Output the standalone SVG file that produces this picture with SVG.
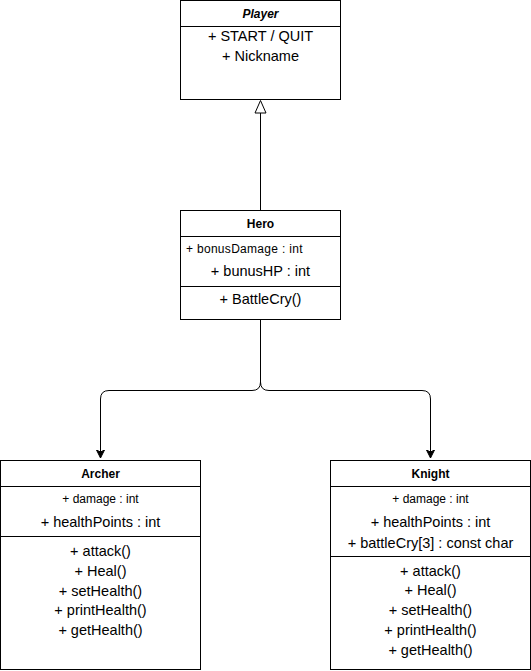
<svg xmlns="http://www.w3.org/2000/svg" width="531" height="671" viewBox="0 0 531 671">
<defs>
<style>
.box{fill:#ffffff;stroke:#000000;stroke-width:1}
.div{stroke:#000000;stroke-width:1;fill:none}
.t{font-family:"Liberation Sans",Arial,sans-serif;font-size:12px;font-weight:bold;text-anchor:middle;fill:#000}
.a{font-family:"Liberation Sans",Arial,sans-serif;font-size:14.5px;text-anchor:middle;fill:#000}
.s{font-family:"Liberation Sans",Arial,sans-serif;font-size:12px;fill:#000}
.e{fill:none;stroke:#000;stroke-width:1}
</style>
<marker id="arr" markerWidth="10" markerHeight="10" refX="8" refY="5" orient="auto" markerUnits="userSpaceOnUse">
<path d="M0,1 L8,5 L0,9 L2,5 Z" fill="#000" stroke="#000" stroke-width="1"/>
</marker>
</defs>
<g id="connectors">
<path class="e" d="M260.5,210 L260.5,113"/>
<path d="M260.5,100.5 L266,113 L255,113 Z" fill="#fff" stroke="#000" stroke-width="1"/>
<path class="e" d="M260.5,320 L260.5,382 Q260.5,390.5 252,390.5 L109,390.5 Q100.5,390.5 100.5,399 L100.5,458" marker-end="url(#arr)"/>
<path class="e" d="M260.5,320 L260.5,382 Q260.5,390.5 269,390.5 L422,390.5 Q430.5,390.5 430.5,399 L430.5,458" marker-end="url(#arr)"/>
</g>
<g id="player">
<rect class="box" x="180.5" y="0.5" width="160" height="99"/>
<line class="div" x1="180.5" y1="26.5" x2="340.5" y2="26.5"/>
<text class="t" x="260.5" y="18" font-style="italic">Player</text>
<text class="a" x="260.5" y="41">+ START / QUIT</text>
<text class="a" x="260.5" y="61">+ Nickname</text>
</g>
<g id="hero">
<rect class="box" x="180.5" y="210.5" width="160" height="109"/>
<line class="div" x1="180.5" y1="236.5" x2="340.5" y2="236.5"/>
<line class="div" x1="180.5" y1="286.5" x2="340.5" y2="286.5"/>
<text class="t" x="260.5" y="228">Hero</text>
<text class="s" x="186" y="253" font-size="11.5" letter-spacing="0.3">+ bonusDamage : int</text>
<text class="a" x="260.5" y="276">+ bunusHP : int</text>
<text class="a" x="260.5" y="304">+ BattleCry()</text>
</g>
<g id="archer">
<rect class="box" x="0.5" y="460.5" width="200" height="209"/>
<line class="div" x1="0.5" y1="486.5" x2="200.5" y2="486.5"/>
<line class="div" x1="0.5" y1="536.5" x2="200.5" y2="536.5"/>
<text class="t" x="100.5" y="478">Archer</text>
<text class="s" x="100.5" y="503" text-anchor="middle">+ damage : int</text>
<text class="a" x="100.5" y="527">+ healthPoints : int</text>
<text class="a" x="100.5" y="556">+ attack()</text>
<text class="a" x="100.5" y="576">+ Heal()</text>
<text class="a" x="100.5" y="596">+ setHealth()</text>
<text class="a" x="100.5" y="615">+ printHealth()</text>
<text class="a" x="100.5" y="635">+ getHealth()</text>
</g>
<g id="knight">
<rect class="box" x="330.5" y="460.5" width="200" height="209"/>
<line class="div" x1="330.5" y1="486.5" x2="530.5" y2="486.5"/>
<line class="div" x1="330.5" y1="556.5" x2="530.5" y2="556.5"/>
<text class="t" x="430.5" y="478">Knight</text>
<text class="s" x="430.5" y="503" text-anchor="middle">+ damage : int</text>
<text class="a" x="430.5" y="527">+ healthPoints : int</text>
<text class="a" x="430.5" y="548">+ battleCry[3] : const char</text>
<text class="a" x="430.5" y="576">+ attack()</text>
<text class="a" x="430.5" y="595">+ Heal()</text>
<text class="a" x="430.5" y="615">+ setHealth()</text>
<text class="a" x="430.5" y="635">+ printHealth()</text>
<text class="a" x="430.5" y="655">+ getHealth()</text>
</g>
</svg>
